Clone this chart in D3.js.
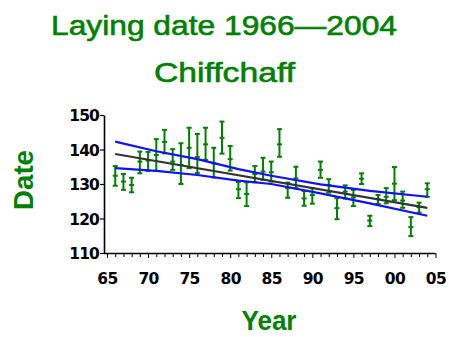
<!DOCTYPE html>
<html>
<head>
<meta charset="utf-8">
<script src="https://cdn.jsdelivr.net/npm/d3@7"></script>
<style>
  html, body { margin: 0; padding: 0; background: #fff; }
  svg { display: block; }
</style>
</head>
<body>
<svg id="chart" width="449" height="337"></svg>
<script>
// ---- data ----
const years = d3.range(1966, 2005);
const meanDate = [132.4,130.7,129.7,136.5,136.8,138.4,142.2,136.5,135.5,140.5,
                  137.8,141.5,136.0,143.4,137.2,128.5,127.1,132.9,133.6,133.4,
                  141.5,128.8,131.6,125.8,126.8,134.1,129.7,123.0,127.8,126.1,
                  131.5,119.4,125.6,126.3,130.1,125.2,117.5,123.3,128.5];
const lowDate  = [129.5,128.3,127.6,133.1,133.8,133.8,138.9,134.1,130.0,134.6,
                  133.2,137.0,131.9,138.8,133.9,125.9,123.6,130.5,131.2,130.7,
                  137.9,126.0,128.8,123.7,124.3,131.8,127.5,119.8,125.8,123.6,
                  130.0,117.8,124.2,124.4,125.3,123.1,114.9,121.7,126.3];
const highDate = [135.2,132.9,131.8,139.4,139.3,143.0,145.7,140.1,141.8,146.3,
                  144.5,146.3,140.5,148.1,141.0,130.6,130.5,135.2,137.6,136.5,
                  145.9,130.4,135.0,128.0,128.8,136.5,131.4,125.9,129.6,128.3,
                  133.1,120.8,126.8,128.8,134.9,127.8,120.4,124.6,130.2];

const fitYears = [1966, 2004];
const fitValues = [138.7, 123.1];
const bandYears = [1966, 1971, 1976, 1981, 1985, 1991, 1997, 2004];
const bandUpper = [142.3, 139.5, 137.2, 134.3, 132.4, 129.9, 128.0, 126.3];
const bandLower = [134.6, 133.8, 132.6, 131.0, 130.0, 127.3, 124.4, 120.8];

const xTickYears = d3.range(1965, 2006);
const xTickLabels = ["65","70","75","80","85","90","95","00","05"];
const yTicks = [110, 120, 130, 140, 150];

const titleLines = ["Laying date 1966\u20142004", "Chiffchaff"];
const xTitle = "Year";
const yTitle = "Date";

// ---- drawing ----
const svg = d3.select("#chart");
const green = "#008000";

const x = d3.scaleLinear().domain([1965, 2005]).range([107, 435.5]);
const y = d3.scaleLinear().domain([110, 150]).range([253, 115]);
const axisX = 104;

// titles
svg.append("text").text(titleLines[0])
  .attr("x", 224).attr("y", 35).attr("text-anchor", "middle")
  .attr("font-family", "Liberation Sans, Arial, sans-serif")
  .attr("font-size", 28).attr("fill", green)
  .attr("stroke", green).attr("stroke-width", 0.6)
  .attr("textLength", 346).attr("lengthAdjust", "spacingAndGlyphs");
svg.append("text").text(titleLines[1])
  .attr("x", 224.5).attr("y", 82).attr("text-anchor", "middle")
  .attr("font-family", "Liberation Sans, Arial, sans-serif")
  .attr("font-size", 28).attr("fill", green)
  .attr("stroke", green).attr("stroke-width", 0.6)
  .attr("textLength", 141).attr("lengthAdjust", "spacingAndGlyphs");

// axis titles
svg.append("text").text(xTitle)
  .attr("x", 269).attr("y", 330).attr("text-anchor", "middle")
  .attr("font-family", "Liberation Sans, Arial, sans-serif")
  .attr("font-weight", "bold").attr("font-size", 27).attr("fill", green)
  .attr("textLength", 55).attr("lengthAdjust", "spacingAndGlyphs");
svg.append("text").text(yTitle)
  .attr("transform", "translate(33,180) rotate(-90)")
  .attr("text-anchor", "middle")
  .attr("font-family", "Liberation Sans, Arial, sans-serif")
  .attr("font-weight", "bold").attr("font-size", 27).attr("fill", green)
  .attr("textLength", 60).attr("lengthAdjust", "spacingAndGlyphs");

// axes
const xAxis = d3.axisBottom(x)
  .tickValues(xTickYears)
  .tickSize(4).tickSizeOuter(0)
  .tickFormat(d => d % 5 === 0 ? xTickLabels[(d - 1965) / 5] : "");
const gx = svg.append("g").attr("transform", `translate(0,${y(110)})`).call(xAxis);
gx.select(".domain").attr("d", `M${axisX},0.5H${x(2005)}`).attr("stroke-width", 1.6);
gx.selectAll(".tick line").attr("stroke-width", 1)
  .attr("y2", d => d % 5 === 0 ? 5 : 4);
gx.selectAll(".tick text")
  .attr("y", 31).attr("dy", 0)
  .attr("font-family", "DejaVu Sans, sans-serif")
  .attr("font-weight", "bold").attr("font-size", 15.5)
  .attr("letter-spacing", -0.6).attr("fill", "#000");

const yAxis = d3.axisLeft(y).tickValues(yTicks).tickSize(4).tickSizeOuter(0);
const gy = svg.append("g").attr("transform", `translate(${axisX},0)`).call(yAxis);
gy.select(".domain").attr("stroke-width", 1.6);
gy.selectAll(".tick line").attr("stroke-width", 1.2);
gy.selectAll(".tick text")
  .attr("x", -5).attr("dy", "0.38em")
  .attr("font-family", "DejaVu Sans, sans-serif")
  .attr("font-weight", "bold").attr("font-size", 15.5)
  .attr("letter-spacing", -0.9).attr("fill", "#000");

// error bars
const bars = svg.append("g").attr("stroke", green).attr("stroke-width", 2).attr("fill", "none");
years.forEach((yr, i) => {
  const cx = x(yr);
  const g = bars.append("g");
  g.append("line").attr("x1", cx).attr("x2", cx).attr("y1", y(lowDate[i])).attr("y2", y(highDate[i]));
  [lowDate[i], meanDate[i], highDate[i]].forEach(v => {
    g.append("line").attr("x1", cx - 2.5).attr("x2", cx + 2.5).attr("y1", y(v)).attr("y2", y(v));
  });
});

// regression line and confidence band
const line = d3.line().x(d => x(d[0])).y(d => y(d[1]));
svg.append("path").datum(d3.zip(bandYears, bandUpper)).attr("d", line)
  .attr("fill", "none").attr("stroke", "#1010ff").attr("stroke-width", 2.2);
svg.append("path").datum(d3.zip(bandYears, bandLower)).attr("d", line)
  .attr("fill", "none").attr("stroke", "#1010ff").attr("stroke-width", 2.2);
svg.append("path").datum(d3.zip(fitYears, fitValues)).attr("d", line)
  .attr("fill", "none").attr("stroke", "#333").attr("stroke-width", 2.2);
</script>
</body>
</html>
